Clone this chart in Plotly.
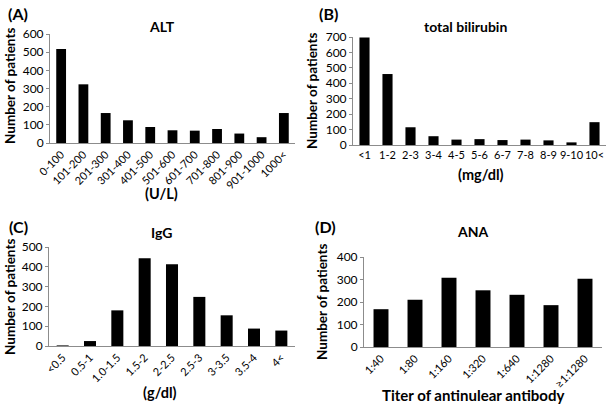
import plotly.graph_objects as go

W, H = 610, 405

alt_cats = ["0-100", "101-200", "201-300", "301-400", "401-500", "501-600",
            "601-700", "701-800", "801-900", "901-1000", "1000<"]
alt_vals = [518, 323, 165, 125, 88, 70, 68, 77, 52, 32, 165]

bil_cats = ["<1", "1-2", "2-3", "3-4", "4-5", "5-6", "6-7", "7-8", "8-9", "9-10", "10<"]
bil_vals = [697, 460, 115, 57, 35, 38, 32, 35, 30, 17, 148]

igg_cats = ["<0.5", "0.5-1", "1.0-1.5", "1.5-2", "2-2.5", "2.5-3", "3-3.5", "3.5-4", "4<"]
igg_vals = [3, 25, 180, 443, 413, 248, 155, 88, 78]

ana_cats = ["1:40", "1:80", "1:160", "1:320", "1:640", "1:1280", "\u22651:1280"]
ana_vals = [168, 210, 308, 252, 232, 186, 303]

FONT = "Lato, 'Open Sans', sans-serif"
AXC = "#8c8c8c"

def px(x):
    return x / W

def py(y):
    return 1 - y / H

fig = go.Figure()

panels = [
    (alt_cats, alt_vals, "x", "y", (50, 295), (34, 143), 600, 100, -45),
    (bil_cats, bil_vals, "x2", "y2", (353, 606), (37, 145), 700, 100, 0),
    (igg_cats, igg_vals, "x3", "y3", (49, 295), (247, 346), 500, 100, -45),
    (ana_cats, ana_vals, "x4", "y4", (364, 602), (257, 347), 400, 100, -45),
]

layout = dict(
    width=W, height=H,
    margin=dict(l=0, r=0, t=0, b=0),
    paper_bgcolor="white", plot_bgcolor="white",
    showlegend=False,
    bargap=0.56,
    font=dict(family=FONT, color="black", size=11),
)

for i, (cats, vals, xa, ya, xd, yd, ymax, dt, ang) in enumerate(panels):
    fig.add_trace(go.Bar(x=cats, y=vals, xaxis=xa, yaxis=ya,
                         marker=dict(color="black", line=dict(width=0))))
    sx = "xaxis" if i == 0 else f"xaxis{i+1}"
    sy = "yaxis" if i == 0 else f"yaxis{i+1}"
    layout[sx] = dict(domain=[px(xd[0]), px(xd[1])], anchor=ya,
                      showline=True, linecolor=AXC, linewidth=1,
                      ticks="", tickangle=ang, showgrid=False,
                      tickfont=dict(size=11, family=FONT, color="black"),
                      type="category", fixedrange=True, automargin=False)
    layout[sy] = dict(domain=[py(yd[1]), py(yd[0])], anchor=xa,
                      range=[0, ymax], dtick=dt, showline=True, linecolor=AXC,
                      linewidth=1, ticks="outside", ticklen=3, tickcolor=AXC,
                      showgrid=False, zeroline=False,
                      tickfont=dict(size=12, family=FONT, color="black"),
                      fixedrange=True, automargin=False)

fig.update_layout(**layout)

def ann(text, x, y, size, bold=True, angle=0):
    t = f"<b>{text}</b>" if bold else text
    fig.add_annotation(text=t, x=px(x), y=py(y), xref="paper", yref="paper",
                       showarrow=False, textangle=angle,
                       font=dict(size=size, family=FONT, color="black"),
                       xanchor="center", yanchor="middle")

ann("(A)", 18, 13, 16)
ann("(B)", 328, 13, 16)
ann("(C)", 18, 226, 16)
ann("(D)", 325, 227, 16)

ann("ALT", 162, 27, 14)
ann("total bilirubin", 465, 26, 14)
ann("IgG", 162, 232, 14)
ann("ANA", 473, 231, 14)

ann("(U/L)", 162, 194, 14.5)
ann("(mg/dl)", 481, 175, 14.5)
ann("(g/dl)", 160, 392, 14.5)
ann("Titer of antinulear antibody", 473, 395, 15)

ann("Number of patients", 10, 86, 13.5, angle=-90)
ann("Number of patients", 312, 91, 13.5, angle=-90)
ann("Number of patients", 10, 297, 13.5, angle=-90)
ann("Number of patients", 322, 302, 13.5, angle=-90)

fig.write_html("out.html",
               config={"displayModeBar": False, "staticPlot": True},
               post_script="document.body.style.margin='0';document.body.style.overflow='hidden';")
